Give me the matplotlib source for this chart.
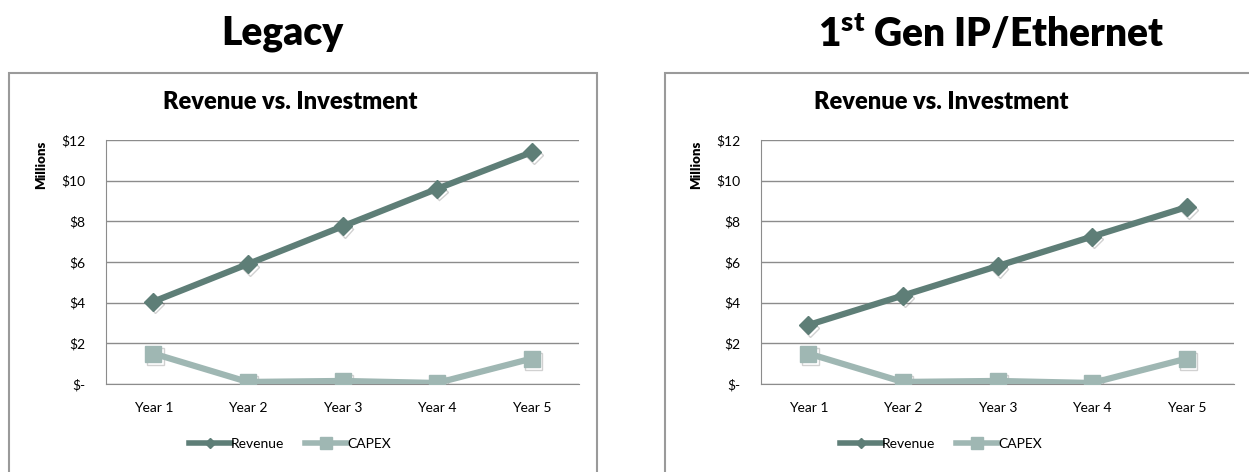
import matplotlib
matplotlib.use("Agg")
import matplotlib.pyplot as plt
import matplotlib.patheffects as pe
from matplotlib.patches import Rectangle
from matplotlib.lines import Line2D

plt.rcParams['font.family'] = ['Lato', 'DejaVu Sans']

years = ['Year 1', 'Year 2', 'Year 3', 'Year 4', 'Year 5']
legacy_revenue = [4.05, 5.9, 7.75, 9.6, 11.4]
legacy_capex = [1.5, 0.1, 0.15, 0.05, 1.25]
ip_revenue = [2.9, 4.35, 5.8, 7.25, 8.7]
ip_capex = [1.5, 0.1, 0.15, 0.05, 1.25]
yticks = [0, 2, 4, 6, 8, 10, 12]
ytick_labels = ['$-', '$2', '$4', '$6', '$8', '$10', '$12']

REV_COLOR = '#5e7e77'
CAPEX_COLOR = '#9fb7b3'
GRID = '#8c8c8c'

W, H = 1249, 472
fig = plt.figure(figsize=(W / 100, H / 100), dpi=100)


def px(x0, y0, x1, y1):
    # pixel box (top-left origin) -> figure fraction rect
    return [x0 / W, 1 - y1 / H, (x1 - x0) / W, (y1 - y0) / H]


def panel(heading, head_x, box, plot, title_x, revenue, capex):
    fig.text(head_x / W, 1 - 34 / H, heading, ha='center', va='center',
             fontsize=28, fontweight='heavy')
    bx0, by0, bx1, by1 = box
    fig.patches.append(Rectangle((bx0 / W, 1 - by1 / H), (bx1 - bx0) / W,
                                 (by1 - by0) / H, transform=fig.transFigure,
                                 fill=False, edgecolor='#9a9a9a', lw=1.5))
    fig.text(title_x / W, 1 - 102 / H, 'Revenue vs. Investment', ha='center',
             va='center', fontsize=17, fontweight='heavy')
    ax = fig.add_axes(px(*plot))
    x = range(len(years))
    # soft drop shadow under the markers only
    shadow = [pe.SimpleLineShadow(offset=(1.5, -2), alpha=0.18, shadow_color='black')]
    ax.plot(x, revenue, ls='none', marker='D', ms=9, color=REV_COLOR,
            path_effects=shadow, zorder=2)
    ax.plot(x, capex, ls='none', marker='s', ms=12, color=CAPEX_COLOR,
            path_effects=shadow, zorder=2)
    ax.plot(x, capex, color=CAPEX_COLOR, lw=4.5, marker='s', ms=12, zorder=3)
    ax.plot(x, revenue, color=REV_COLOR, lw=4.5, marker='D', ms=9, zorder=4)
    ax.set_xlim(-0.5, len(years) - 0.5)
    ax.set_ylim(0, 12)
    ax.set_yticks(yticks)
    ax.set_yticklabels(ytick_labels)
    ax.set_xticks(list(x))
    ax.set_xticklabels(years)
    ax.tick_params(length=0, labelsize=10)
    ax.tick_params(axis='y', pad=15)
    ax.tick_params(axis='x', pad=13)
    ax.grid(axis='y', color=GRID, lw=1)
    ax.set_axisbelow(True)
    for s in ['top', 'right']:
        ax.spines[s].set_visible(False)
    for s in ['left', 'bottom']:
        ax.spines[s].set_color(GRID)
    ax.set_ylabel('Millions', fontsize=9.5, fontweight='heavy')
    ax.yaxis.set_label_coords(-0.125, 0.9)
    handles = [Line2D([], [], color=REV_COLOR, lw=4, marker='D', ms=5),
               Line2D([], [], color=CAPEX_COLOR, lw=4, marker='s', ms=8)]
    fig.legend(handles, ['Revenue', 'CAPEX'], loc='center',
               bbox_to_anchor=(title_x / W, 1 - 444 / H), ncol=2, frameon=False,
               fontsize=10, handlelength=3, columnspacing=1.5, handletextpad=0.0)
    return ax


panel('Legacy', 282, (9, 73, 597, 480), (106, 140, 579, 384), 290,
      legacy_revenue, legacy_capex)
panel('1$^{\\mathregular{st}}$ Gen IP/Ethernet', 991, (665, 73, 1260, 480),
      (761, 140, 1234, 384), 941, ip_revenue, ip_capex)

fig.savefig('out.png', dpi=100)
